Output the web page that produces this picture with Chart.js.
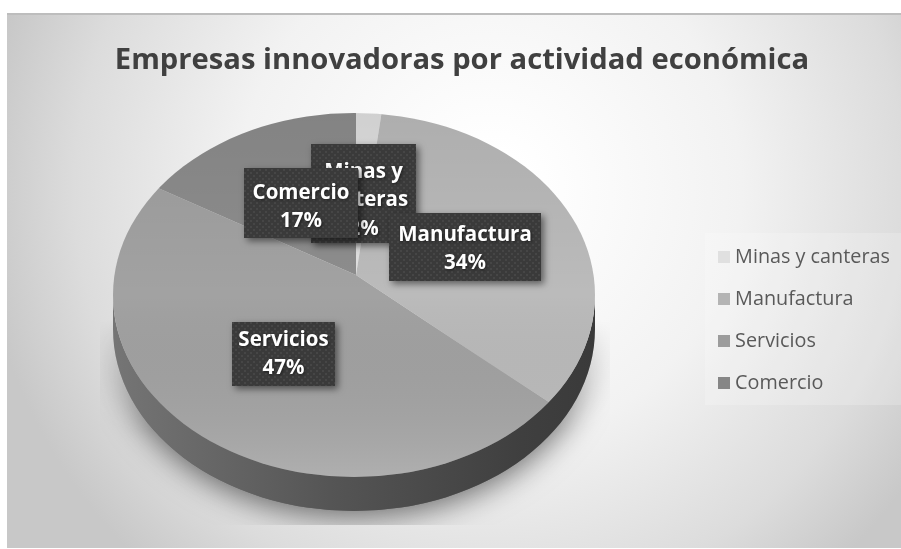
<!DOCTYPE html>
<html><head><meta charset="utf-8">
<style>html,body{margin:0;padding:0;background:#fff}#w{position:absolute;left:0;top:0;width:901px;height:549px}</style>
<script src="https://cdn.jsdelivr.net/npm/chart.js@4"></script></head>
<body><div id="w"><canvas id="c"></canvas></div>
<script>
const categories = ['Minas y canteras','Manufactura','Servicios','Comercio'];
const values = [2,34,47,17];
const sliceColors = ['#e0e0e0','#bbbbbb','#a2a2a2','#8d8d8d'];
const legendColors = ['#e0e0e0','#b4b4b4','#9c9c9c','#868686'];
const titleText = 'Empresas innovadoras por actividad económica';
const labelLines = [['Minas y','canteras'],['Manufactura'],['Servicios'],['Comercio']];
const labelBoxes = [[311,144,105,99],[389,213,152,68],[232,322,103,64],[244,168,114,70]];
const labelFirstY = [172,235,340,193];
const labelOrder = [0,1,2,3];

// frame and pie geometry
const F={x:7,y:14,r:901,b:548};
const E={cx:354,cy:295,rx:241,ry:182,depth:34};
const A={x:356,y:275,s:0.8};

function ellipse(ctx,dy){ctx.beginPath();ctx.ellipse(E.cx,E.cy+(dy||0),E.rx,E.ry,0,0,Math.PI*2);ctx.closePath();}
function swatch(color){const c=document.createElement('canvas');c.width=c.height=12;const x=c.getContext('2d');x.fillStyle=color;x.fillRect(0,0,12,12);return c;}

const scene={id:'scene',
 afterLayout(chart){
  const lg=chart.legend;
  lg.left=701;lg.right=1100;lg.top=225;lg.bottom=549;
 },
 beforeDraw(chart){
  const ctx=chart.ctx;ctx.save();
  ctx.fillStyle='#fff';ctx.fillRect(0,0,901,549);
  const g=ctx.createRadialGradient(490,190,40,490,190,510);
  g.addColorStop(0,'#ffffff');g.addColorStop(.45,'#f2f2f2');g.addColorStop(.8,'#dcdcdc');g.addColorStop(1,'#c8c8c8');
  ctx.fillStyle=g;ctx.fillRect(F.x,F.y,F.r-F.x,F.b-F.y);
  ctx.fillStyle='#bdbdbd';ctx.fillRect(F.x,F.y-1,F.r-F.x,2);
  ctx.fillStyle='rgba(255,255,255,.2)';ctx.fillRect(705,233,196,172);
  ctx.restore();
 },
 beforeDatasetsDraw(chart){
  const ctx=chart.ctx;
  // soft shadow under the pie, fading out upward
  const off=document.createElement('canvas');off.width=901;off.height=549;
  const o=off.getContext('2d');
  o.save();o.beginPath();o.rect(100,300,510,225);o.clip();
  o.shadowColor='rgba(0,0,0,.55)';o.shadowBlur=30;o.shadowOffsetY=6;
  o.fillStyle='#666';ellipse(o,E.depth);o.fill();o.restore();
  o.globalCompositeOperation='destination-in';
  const f=o.createLinearGradient(0,320,0,430);f.addColorStop(0,'rgba(0,0,0,0)');f.addColorStop(1,'rgba(0,0,0,1)');
  o.fillStyle=f;o.fillRect(0,0,901,549);
  ctx.drawImage(off,0,0);
  // side wall
  ctx.save();
  const w=ctx.createLinearGradient(E.cx-E.rx,0,E.cx+E.rx,0);
  w.addColorStop(0,'#757575');w.addColorStop(.45,'#555555');w.addColorStop(.85,'#3f3f3f');w.addColorStop(1,'#3a3a3a');
  ctx.fillStyle=w;
  ctx.beginPath();ctx.ellipse(E.cx,E.cy+E.depth,E.rx,E.ry,0,0,Math.PI);ctx.ellipse(E.cx,E.cy,E.rx,E.ry,0,Math.PI,0,true);ctx.closePath();ctx.fill();
  ctx.restore();
  // top surface: arcs mapped onto the tilted disc
  const arc=chart.getDatasetMeta(0).data[0];
  const k=330/arc.outerRadius;
  ctx.save();
  ellipse(ctx);ctx.clip();
  ctx.translate(A.x,A.y);ctx.scale(k,k*A.s);ctx.translate(-arc.x,-arc.y);
 },
 afterDatasetsDraw(chart){
  const ctx=chart.ctx;
  ctx.restore();
  // surface shading
  ctx.save();
  const g=ctx.createLinearGradient(0,E.cy-E.ry,0,E.cy+E.ry);
  g.addColorStop(0,'rgba(0,0,0,.07)');g.addColorStop(.5,'rgba(0,0,0,0)');g.addColorStop(1,'rgba(255,255,255,.14)');
  ctx.fillStyle=g;ellipse(ctx);ctx.fill();
  ctx.restore();
  // data labels
  const tile=document.createElement('canvas');tile.width=tile.height=6;
  const t=tile.getContext('2d');t.fillStyle='#3a3a3a';t.fillRect(0,0,6,6);t.fillStyle='#464646';t.fillRect(1,1,2,2);t.fillRect(4,4,2,2);
  const pat=ctx.createPattern(tile,'repeat');
  labelOrder.forEach(i=>{
   const [x,y,w,h]=labelBoxes[i];
   ctx.save();
   ctx.shadowColor='rgba(0,0,0,.5)';ctx.shadowBlur=7;ctx.shadowOffsetX=3;ctx.shadowOffsetY=3;
   ctx.fillStyle=pat;ctx.fillRect(x,y,w,h);
   ctx.restore();
   const lines=labelLines[i].concat([values[i]+'%']);
   ctx.save();
   ctx.font='700 20.5px "Open Sans"';ctx.fillStyle='#fff';ctx.textAlign='center';ctx.textBaseline='middle';
   ctx.shadowColor='rgba(0,0,0,.5)';ctx.shadowBlur=3;ctx.shadowOffsetX=1;ctx.shadowOffsetY=1;
   lines.forEach((s,n)=>ctx.fillText(s,x+w/2,labelFirstY[i]+28.5*n));
   ctx.restore();
  });
 }
};

new Chart(document.getElementById('c'),{
 type:'pie',
 data:{labels:categories,datasets:[{data:values,backgroundColor:sliceColors,borderWidth:0,hoverOffset:0}]},
 options:{
  responsive:true,maintainAspectRatio:false,animation:false,
  layout:{padding:{left:33,top:43,right:10,bottom:10}},
  plugins:{
   tooltip:{enabled:false},
   title:{display:true,text:titleText,color:'#404040',font:{family:'"Open Sans"',size:29.2,weight:'700'},padding:{top:0,bottom:10}},
   legend:{position:'right',align:'start',
    labels:{usePointStyle:true,pointStyleWidth:2,boxHeight:12,color:'#595959',font:{family:'"Open Sans"',size:19.8},padding:22.2,
     generateLabels(chart){
      return categories.map((t,i)=>({text:t,pointStyle:swatch(legendColors[i]),fillStyle:legendColors[i],strokeStyle:legendColors[i],lineWidth:0,fontColor:'#595959',index:i,hidden:false}));
     }}}
  }
 },
 plugins:[scene]
});
</script></body></html>
